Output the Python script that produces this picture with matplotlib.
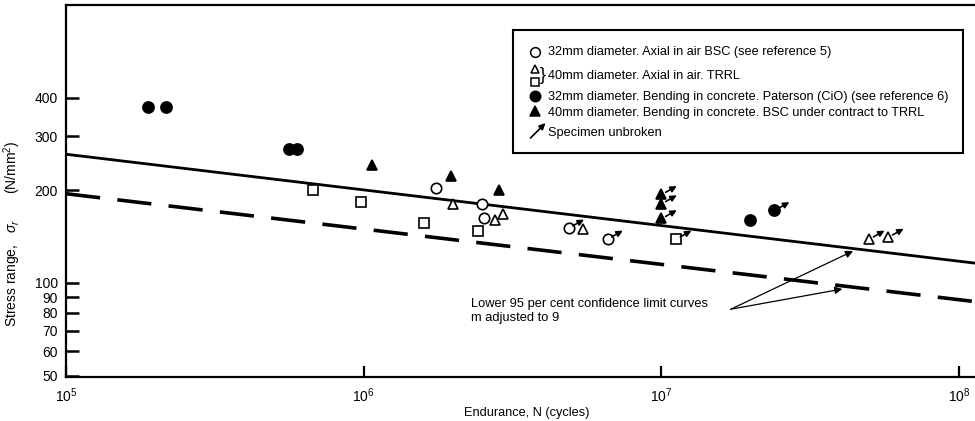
import numpy as np
import matplotlib
matplotlib.use('Agg')
import matplotlib.pyplot as plt
import matplotlib.ticker as ticker
from matplotlib.transforms import offset_copy
from matplotlib.patches import Rectangle

plt.rcParams['font.family'] = ['Liberation Sans', 'DejaVu Sans']
plt.rcParams['mathtext.fontset'] = 'custom'
plt.rcParams['mathtext.rm'] = 'Liberation Sans'
plt.rcParams['mathtext.it'] = 'Liberation Sans:italic'

# 32mm axial in air, BSC (open circles)
circ_open_N = [1.75e6, 2.49e6, 2.53e6, 4.88e6, 6.59e6]
circ_open_S = [203, 181, 162, 151, 139]
circ_open_unbroken = [False, False, False, True, True]

# 40mm axial in air, TRRL (open triangles)
tri_open_N = [1.99e6, 2.75e6, 2.93e6, 5.43e6, 4.99e7, 5.78e7]
tri_open_S = [180, 160, 168, 150, 139, 141]
tri_open_unbroken = [False, False, False, False, True, True]

# 40mm axial in air, TRRL (open squares)
sq_open_N = [6.75e5, 9.77e5, 1.59e6, 2.42e6, 1.12e7]
sq_open_S = [200, 183, 157, 148, 139]
sq_open_unbroken = [False, False, False, False, True]

# 32mm bending in concrete, Paterson (filled circles)
circ_fill_N = [1.88e5, 2.17e5, 5.6e5, 5.96e5, 1.99e7, 2.39e7]
circ_fill_S = [374, 374, 272, 272, 160, 172]
circ_fill_unbroken = [False, False, False, False, False, True]

# 40mm bending in concrete, BSC (filled triangles)
tri_fill_N = [1.07e6, 1.97e6, 2.84e6, 1.0e7, 1.0e7, 1.0e7]
tri_fill_S = [242, 222, 201, 194, 181, 162]
tri_fill_unbroken = [False, False, False, True, True, True]

# fitted curves
line_N = [1e5, 1.13e8]
mean_S = [262, 116]
lower_S = [195, 87]

y_ticks = [50, 60, 70, 80, 90, 100, 200, 300, 400]
x_ticks = [1e5, 1e6, 1e7, 1e8]

fig = plt.figure(figsize=(9.75, 4.21), dpi=100)
ax = fig.add_axes([66 / 975, 44 / 421, 909 / 975, 372 / 421])
ax.set_xscale('log')
ax.set_yscale('log')
ax.set_xlim(1e5, 1.13e8)
ax.set_ylim(49.5, 800)

ax.plot(line_N, mean_S, color='black', lw=2.0, solid_capstyle='butt')
ax.plot(line_N, lower_S, color='black', lw=2.6, dashes=(9.5, 4.8))

def scatter(N, S, marker, filled, ms):
    fc = 'black' if filled else 'white'
    ax.plot(N, S, linestyle='none', marker=marker, ms=ms, mfc=fc, mec='black',
            mew=1.2, zorder=4)

def unbroken(N, S, flags):
    head = offset_copy(ax.transData, fig=fig, x=11, y=6, units='points')
    tail = offset_copy(ax.transData, fig=fig, x=3, y=1.5, units='points')
    for n, s, f in zip(N, S, flags):
        if f:
            ax.annotate('', xy=(n, s), xycoords=head, xytext=(n, s), textcoords=tail,
                        arrowprops=dict(arrowstyle='-|>', color='black', lw=1.2,
                                        mutation_scale=9, shrinkA=0, shrinkB=0),
                        zorder=5)

scatter(circ_open_N, circ_open_S, 'o', False, 7.5)
scatter(tri_open_N, tri_open_S, '^', False, 7)
scatter(sq_open_N, sq_open_S, 's', False, 6.5)
scatter(circ_fill_N, circ_fill_S, 'o', True, 8)
scatter(tri_fill_N, tri_fill_S, '^', True, 7.5)
unbroken(circ_open_N, circ_open_S, circ_open_unbroken)
unbroken(tri_open_N, tri_open_S, tri_open_unbroken)
unbroken(sq_open_N, sq_open_S, sq_open_unbroken)
unbroken(circ_fill_N, circ_fill_S, circ_fill_unbroken)
unbroken(tri_fill_N, tri_fill_S, tri_fill_unbroken)

# annotation for confidence limit curves
ax.text(2.29e6, 81, 'Lower 95 per cent confidence limit curves\nm adjusted to 9',
        fontsize=9.3, va='center', ha='left', linespacing=1.2)
for target in [(4.4e7, 127), (4.05e7, 95.6)]:
    ax.annotate('', xy=target, xytext=(1.71e7, 82.2),
                arrowprops=dict(arrowstyle='-|>', color='black', lw=0.9,
                                mutation_scale=11, shrinkA=0, shrinkB=0))

# legend box
ax.add_patch(Rectangle((0.4917, 0.6022), 0.4951, 0.3306, transform=ax.transAxes,
                       facecolor='white', edgecolor='black', lw=1.5, zorder=6))
mx, tx = 0.516, 0.530
entries = [
    (0.8737, '32mm diameter. Axial in air BSC (see reference 5)'),
    (0.8091, '40mm diameter. Axial in air. TRRL'),
    (0.7527, '32mm diameter. Bending in concrete. Paterson (CiO) (see reference 6)'),
    (0.7100, '40mm diameter. Bending in concrete. BSC under contract to TRRL'),
    (0.6559, 'Specimen unbroken'),
]
for y, label in entries:
    ax.text(tx, y, label, transform=ax.transAxes, fontsize=9.2, va='center',
            ha='left', zorder=7)
kw = dict(transform=ax.transAxes, linestyle='none', mec='black', mew=1.1, zorder=7)
ax.plot([mx], [0.8737], marker='o', ms=7, mfc='white', **kw)
ax.plot([mx], [0.8290], marker='^', ms=5.5, mfc='white', **kw)
ax.plot([mx], [0.7930], marker='s', ms=5.5, mfc='white', **kw)
ax.plot([mx], [0.7550], marker='o', ms=7.5, mfc='black', **kw)
ax.plot([mx], [0.7150], marker='^', ms=7, mfc='black', **kw)
ax.text(0.5245, 0.8110, '}', transform=ax.transAxes, fontsize=13,
        va='center', ha='center', zorder=7)
ax.annotate('', xy=(0.5275, 0.6826), xycoords='axes fraction',
            xytext=(0.5110, 0.6425), textcoords='axes fraction',
            arrowprops=dict(arrowstyle='-|>', color='black', lw=1.2,
                            mutation_scale=9, shrinkA=0, shrinkB=0), zorder=7)

# axes styling
ax.spines['right'].set_visible(False)
for s in ['left', 'bottom', 'top']:
    ax.spines[s].set_linewidth(1.6)

ax.yaxis.set_major_locator(ticker.FixedLocator(y_ticks))
ax.yaxis.set_major_formatter(ticker.FixedFormatter([str(v) for v in y_ticks]))
ax.yaxis.set_minor_locator(ticker.NullLocator())
ax.xaxis.set_major_locator(ticker.FixedLocator(x_ticks))
ax.xaxis.set_major_formatter(ticker.FixedFormatter([r'$10^5$', r'$10^6$', r'$10^7$', r'$10^8$']))
ax.xaxis.set_minor_locator(ticker.NullLocator())
ax.tick_params(axis='y', direction='in', length=9, width=1.8, labelsize=10, pad=6)
ax.tick_params(axis='x', direction='in', length=8, width=1.6, labelsize=10, pad=7)

ax.set_xlabel('Endurance, N (cycles)', fontsize=9.2)
ax.xaxis.set_label_coords(0.507, -0.08)
ax.set_ylabel(r'Stress range,   $\sigma_r$       (N/mm$^2$)', fontsize=10)
ax.yaxis.set_label_coords(-0.047, 0.384)

fig.savefig('out.png', dpi=100)
